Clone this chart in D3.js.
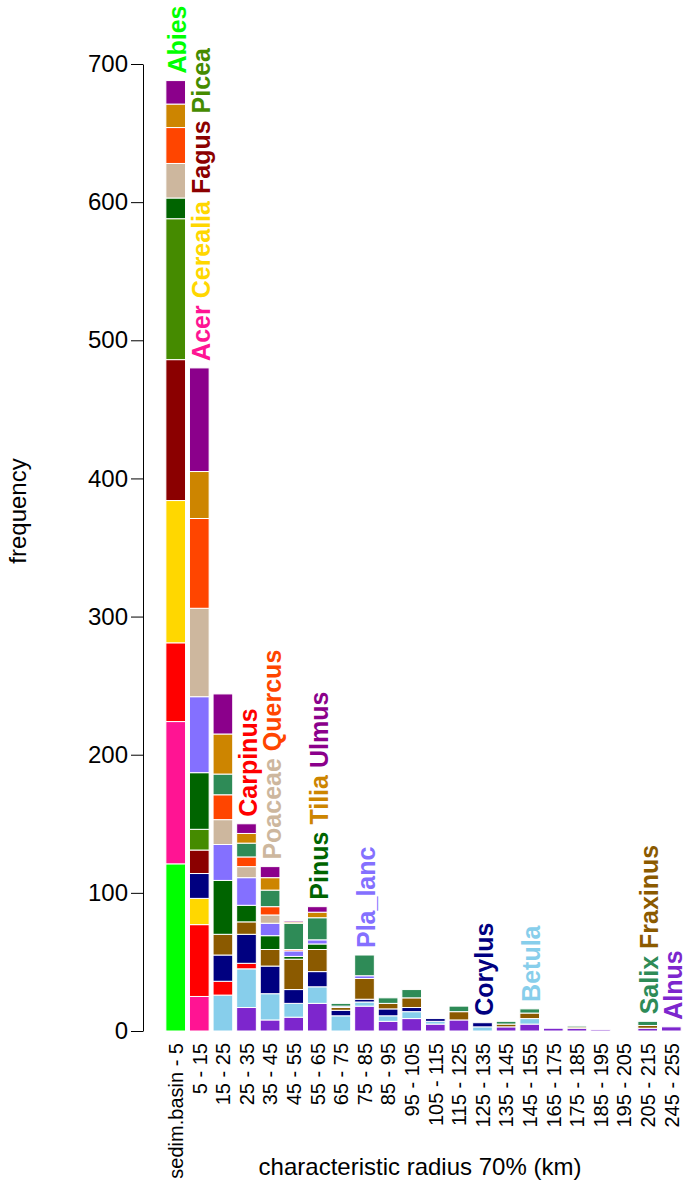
<!DOCTYPE html>
<html><head><meta charset="utf-8">
<script src="https://cdn.jsdelivr.net/npm/d3@7"></script>
<style>
body{margin:0;background:#fff}
svg{display:block}
text{font-family:"Liberation Sans",Arial,Helvetica,sans-serif}
</style>
</head><body>
<svg id="chart" width="686" height="1187"></svg>
<script>
const categories = ["sedim.basin - 5","5 - 15","15 - 25","25 - 35","35 - 45","45 - 55","55 - 65","65 - 75","75 - 85","85 - 95","95 - 105","105 - 115","115 - 125","125 - 135","135 - 145","145 - 155","165 - 175","175 - 185","185 - 195","195 - 205","205 - 215","245 - 255"];
const taxa = ["Abies","Acer","Alnus","Betula","Carpinus","Cerealia","Corylus","Fagus","Fraxinus","Picea","Pinus","Pla_lanc","Poaceae","Quercus","Salix","Tilia","Ulmus"];
const taxonColors = ["#00FF00","#FF1493","#7D26CD","#87CEEB","#FF0000","#FFD700","#000080","#8B0000","#8B5A00","#458B00","#006400","#8470FF","#CDB79E","#FF4500","#2E8B57","#CD8500","#8B008B"];

//                   sb  5  15  25  35  45  55 65 75 85 95 105 115 125 135 145 165 175 185 195 205 245
const Abies    = [121,  0,  0,  0,  0,  0,  0, 0, 0, 0, 0, 0, 0, 0, 0, 0, 0, 0, 0, 0, 0, 0];
const Acer     = [103, 25,  0,  0,  0,  0,  0, 0, 0, 0, 0, 0, 0, 0, 0, 0, 0, 0, 0, 0, 0, 0];
const Alnus    = [  0,  0,  0, 17,  8, 10, 20, 0,18, 7, 9, 5, 8, 0, 3, 5, 2, 2, 1, 0, 2, 3];
const Betula   = [  0,  0, 26, 28, 19, 10, 12,11, 3, 4, 5, 2, 0, 3, 0, 4, 0, 0, 0, 0, 0, 0];
const Carpinus = [ 57, 52, 10,  4,  0,  0,  0, 0, 0, 0, 0, 0, 0, 0, 0, 0, 0, 0, 0, 0, 0, 0];
const Cerealia = [103, 19,  0,  0,  0,  0,  0, 0, 0, 0, 0, 0, 0, 0, 0, 0, 0, 0, 0, 0, 0, 0];
const Corylus  = [  0, 18, 19, 21, 20, 10, 11, 4, 2, 5, 3, 2, 0, 3, 0, 0, 0, 0, 0, 0, 0, 0];
const Fagus    = [102, 17,  0,  0,  0,  0,  0, 0, 0, 0, 0, 0, 0, 0, 0, 0, 0, 0, 0, 0, 0, 0];
const Fraxinus = [  0,  0, 15,  9, 12, 22, 16, 2,15, 4, 7, 0, 6, 0, 2, 4, 0, 1, 0, 0, 2, 0];
const Picea    = [102, 15,  0,  0,  0,  0,  0, 0, 0, 0, 0, 0, 0, 0, 0, 0, 0, 0, 0, 0, 0, 0];
const Pinus    = [ 15, 41, 39, 12, 10,  2,  4, 0, 0, 0, 0, 0, 0, 0, 0, 0, 0, 0, 0, 0, 0, 0];
const Pla_lanc = [  0, 55, 26, 20,  9,  4,  3, 1, 2, 0, 0, 0, 0, 0, 0, 0, 0, 0, 0, 0, 0, 0];
const Poaceae  = [ 25, 64, 18,  8,  6,  0,  0, 0, 0, 0, 0, 0, 0, 0, 0, 0, 0, 0, 0, 0, 0, 0];
const Quercus  = [ 26, 65, 18,  7,  6,  1,  0, 0, 0, 0, 0, 0, 0, 0, 0, 0, 0, 0, 0, 0, 0, 0];
const Salix    = [  0,  0, 15, 10, 12, 19, 16, 2,15, 4, 6, 0, 4, 0, 2, 3, 0, 1, 0, 0, 3, 0];
const Tilia    = [ 17, 34, 29,  7,  9,  1,  4, 0, 0, 0, 0, 0, 0, 0, 0, 0, 0, 0, 0, 0, 0, 0];
const Ulmus    = [ 17, 75, 29,  7,  8,  1,  4, 0, 0, 0, 0, 0, 0, 0, 0, 0, 0, 0, 0, 0, 0, 0];

// taxon name labels written above each bin, from bottom to top
const labelStacks = [["Abies"],["Acer","Cerealia","Fagus","Picea"],[],["Carpinus"],["Poaceae","Quercus"],[],["Pinus","Tilia","Ulmus"],[],["Pla_lanc"],[],[],[],[],["Corylus"],[],["Betula"],[],[],[],[],["Salix","Fraxinus"],["Alnus"]];
const yTicks = [0,100,200,300,400,500,600,700];
const xTitle = "characteristic radius 70% (km)";
const yTitle = "frequency";

const series = {Abies,Acer,Alnus,Betula,Carpinus,Cerealia,Corylus,Fagus,Fraxinus,Picea,Pinus,Pla_lanc,Poaceae,Quercus,Salix,Tilia,Ulmus};
const table = categories.map((c,i)=>{const r={cat:c}; taxa.forEach(t=>r[t]=series[t][i]); return r;});
const color = d3.scaleOrdinal().domain(taxa).range(taxonColors);

const svg = d3.select("#chart");
const x = d3.scaleBand().domain(categories).range([163.9,683.1]).paddingInner(0.2/1.2).paddingOuter(0.1/1.2);
const y = d3.scaleLinear().domain([0,700]).range([1031,64]);

const stacked = d3.stack().keys(taxa)(table);
svg.append("g").selectAll("g").data(stacked).join("g")
  .attr("fill", s=>color(s.key))
  .selectAll("rect").data(s=>s.filter(d=>d[1]-d[0]>0)).join("rect")
  .attr("x", d=>x(d.data.cat))
  .attr("width", x.bandwidth())
  .attr("y", d=>y(d[1]))
  .attr("height", d=>y(d[0])-y(d[1]))
  .attr("stroke","#fff").attr("stroke-width",1);

// y axis
const ya = svg.append("g").attr("transform","translate(143,0)")
  .call(d3.axisLeft(y).tickValues(yTicks).tickSize(12).tickSizeOuter(0).tickPadding(3));
ya.selectAll("text").attr("font-size",24).attr("font-family","Liberation Sans, Arial, sans-serif").attr("fill","#000");
ya.selectAll("line,path").attr("stroke","#000");

// x tick labels
svg.append("g").selectAll("text").data(categories).join("text")
  .attr("transform", c=>`translate(${x(c)+x.bandwidth()/2},1043) rotate(-90)`)
  .attr("text-anchor","end").attr("dy","0.36em")
  .attr("font-size",20).text(c=>c);

// titles
svg.append("text").attr("x",420).attr("y",1175).attr("text-anchor","middle").attr("font-size",24).text(xTitle);
svg.append("text").attr("transform","translate(17,511) rotate(-90)").attr("text-anchor","middle").attr("dy","0.36em").attr("font-size",24).text(yTitle);

// taxon labels
const totals = table.map(r=>d3.sum(taxa,t=>r[t]));
const lg = svg.append("g");
labelStacks.forEach((names,i)=>{
  let start = y(totals[i]) - 7;
  const cx = x(categories[i]) + x.bandwidth()/2 + 1.5;
  names.forEach(n=>{
    const t = lg.append("text")
      .attr("transform",`translate(${cx},${start}) rotate(-90)`)
      .attr("text-anchor","start").attr("dy","0.36em")
      .attr("font-size",25).attr("font-weight","bold")
      .attr("fill",color(n)).text(n);
    start -= t.node().getComputedTextLength() + 7;
  });
});
</script>
</body></html>
